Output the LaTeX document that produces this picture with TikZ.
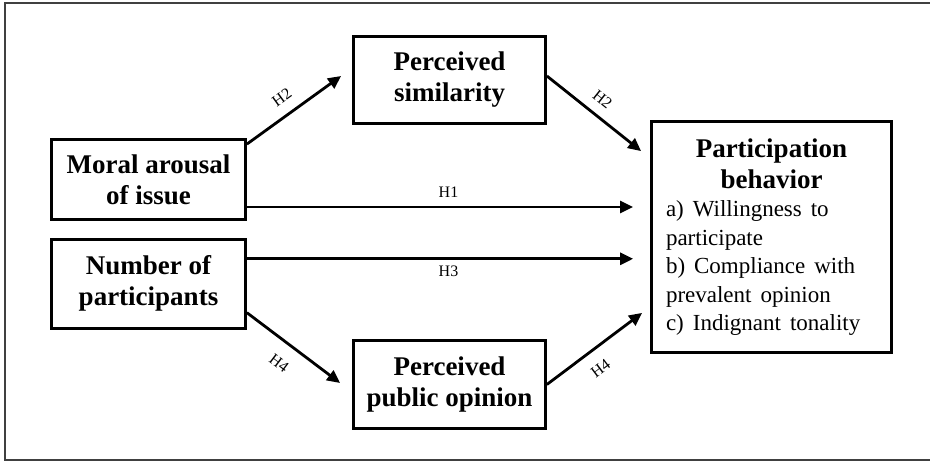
\documentclass[tikz,border=0pt]{standalone}
\usepackage{fontspec}
\setmainfont{Liberation Serif}
\usetikzlibrary{arrows.meta,positioning}
\newcommand{\boxfont}{\fontsize{27}{31}\selectfont\bfseries}
\newcommand{\listfont}{\fontsize{23}{28.5}\selectfont\mdseries}
\newcommand{\hypfont}{\fontsize{16}{19}\selectfont}

\begin{document}
\begin{tikzpicture}[
  x=1pt, y=-1pt,
  box/.style={draw, line width=2.8pt, inner sep=0pt, align=center, font=\boxfont},
  arrow/.style={-{Triangle[length=13pt, width=12pt]}, line width=2.8pt},
  hyp/.style={font=\hypfont, inner sep=2pt}
]
\useasboundingbox (0,0) rectangle (930,461);
\draw[line width=1.5pt, black!75] (5,3) rectangle (940,460);

\node[box, minimum width=194pt, minimum height=80pt] (moral) at (148.5,179.5) {Moral arousal\\ of issue};
\node[box, minimum width=194pt, minimum height=89pt, below=17pt of moral] (number) {Number of\\ participants};
\node[box, minimum width=192pt, minimum height=87pt] (sim) at (449.5,80) {Perceived\\ similarity};
\node[box, minimum width=192pt, minimum height=88pt] (ppo) at (449.5,384.5) {Perceived\\ public opinion};
\node[box, minimum width=240pt, minimum height=231pt, text width=211pt, align=left] (part) at (771.5,237)
  {{\centering Participation\\ behavior\par}{\listfont a) Willingness to\\ participate\\ b) Compliance with\\ prevalent opinion\\ c) Indignant tonality\par}};

\coordinate (h1) at ([yshift=-27.5pt]moral.east);
\coordinate (h3) at ([yshift=25pt]number.east);

\draw[arrow] ([yshift=-6pt]moral.north east) -- ([xshift=-11pt, yshift=4pt]sim.west)
  node[hyp, pos=0.48, sloped, above=9pt] {H2};
\draw[arrow] ([yshift=4pt]sim.east) -- ([xshift=-9pt, yshift=-31pt]part.north west)
  node[hyp, pos=0.48, sloped, above=8pt] {H2};
\draw[arrow, shorten >=17pt] (h1) -- (h1 -| part.west)
  node[hyp, pos=0.5, above=6pt] {H1};
\draw[arrow, shorten >=17pt] (h3) -- (h3 -| part.west)
  node[hyp, pos=0.5, below=4pt] {H3};
\draw[arrow] ([yshift=17pt]number.south east) -- ([xshift=-12pt, yshift=1.5pt]ppo.west)
  node[hyp, pos=0.48, sloped, below=12pt] {H4};
\draw[arrow] (ppo.east) -- ([xshift=-8pt, yshift=41pt]part.south west)
  node[hyp, pos=0.44, sloped, below=11pt] {H4};
\end{tikzpicture}
\end{document}
